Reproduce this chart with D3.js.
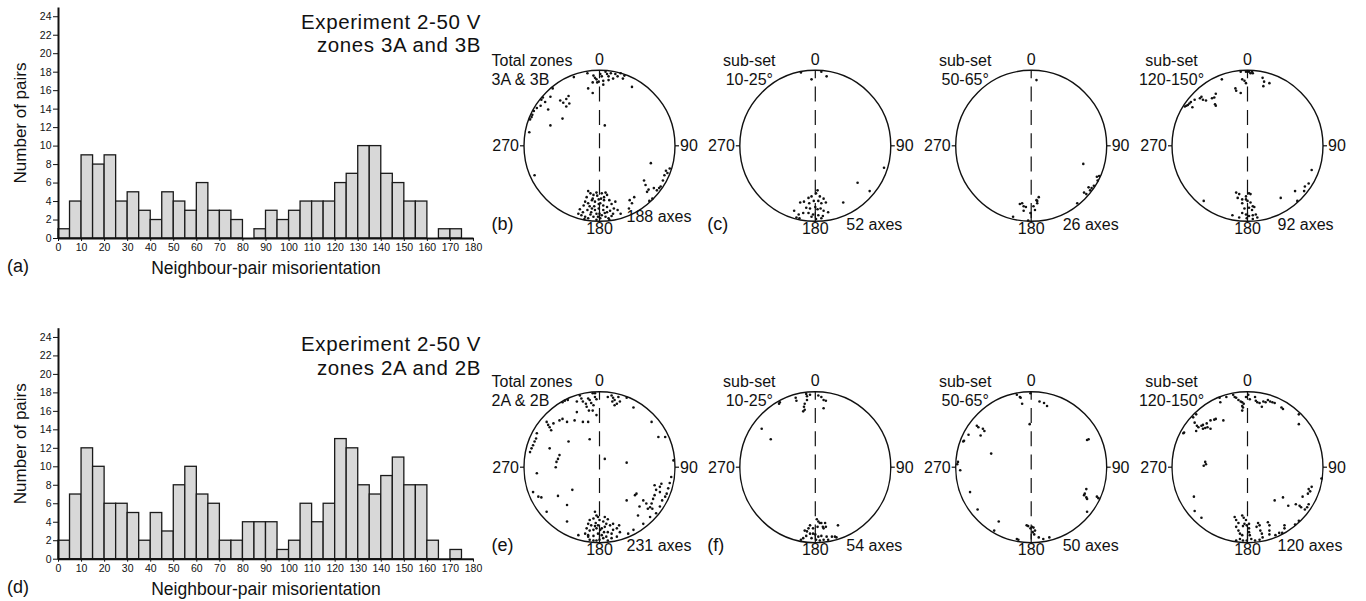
<!DOCTYPE html>
<html>
<head>
<meta charset="utf-8">
<script src="https://cdn.jsdelivr.net/npm/d3@7"></script>
<style>
  body { margin: 0; background: #fff; }
  svg { display: block; }
  text { font-family: 'Liberation Sans', Arial, Helvetica, sans-serif; fill: #111; }
</style>
</head>
<body>
<div class="chart"></div>
<script>
// histogram bins (start of each 5 degree class)
const binStarts = [0,5,10,15,20,25,30,35,40,45,50,55,60,65,70,75,80,85,90,95,100,105,110,115,120,125,130,135,140,145,150,155,160,165,170,175];
const countsZone3 = [1,4,9,8,9,4,5,3,2,5,4,3,6,3,3,2,0,1,3,2,3,4,4,4,6,7,10,10,7,6,4,4,0,1,1,0];
const countsZone2 = [2,7,12,10,6,6,5,2,5,3,8,10,7,6,2,2,4,4,4,1,2,6,4,6,13,12,8,7,9,11,8,8,2,0,1,0];
const xTicks = [0,10,20,30,40,50,60,70,80,90,100,110,120,130,140,150,160,170,180];
const yTicks = [0,2,4,6,8,10,12,14,16,18,20,22,24];

// c-axis poles, net coordinates (east, north) in % of net radius
const polesTotal3 = [[-16,96],[-8,93],[-6,90],[-4,88],[-1,85],[1,95],[3,92],[5,86],[8,98],[10,95],[12,92],[15,96],[18,89],[21,95],[24,92],[28,96],[31,89],[33,93],[43,78],[-3,84],[-9,84],[-15,76],[-9,70],[5,81],[12,87],
  [-34,91],[-62,76],[-65,65],[-77,61],[-75,64],[-72,58],[-78,53],[-68,48],[-52,60],[-48,57],[-44,62],[-41,66],[-40,56],[-44,52],[-89,41],[-90,38],[-92,35],[-87,46],[-83,50],[-49,36],[-65,27],[-93,18],[7,27],
  [-86,-39],
  [68,-23],[88,-33],[90,-36],[93,-30],[86,-39],[84,-46],[81,-54],[79,-56],[76,-59],[72,-56],[65,-58],[63,-61],[59,-46],[61,-52],[46,-68],[40,-72],[66,-73],[70,-70],[43,-76],[39,-83],
  [-15,-60],[-12,-63],[-17,-68],[-8,-65],[-4,-62],[3,-63],[6,-68],[10,-65],[13,-72],[16,-77],[19,-83],[21,-74],[-19,-74],[-21,-79],[-15,-76],[-10,-72],[-6,-74],[-1,-71],[1,-76],[5,-79],[10,-81],[-1,-83],[-6,-85],[-10,-83],[-16,-85],[-26,-84],[-28,-90],[-24,-92],[-19,-94],[-15,-96],[-8,-94],[-4,-90],[0,-90],[3,-92],[8,-94],[12,-96],[16,-93],[10,-88],[5,-85],[1,-96],[-4,-98],[-12,-91],[-20,-97],[13,-98],[-7,-80],[-1,-77],[24,-85],[28,-90],[6,-72],[-9,-70],
  [-3,-66],[8,-62],[-13,-80],[14,-86],[-22,-88],[-2,-94],[7,-89],[18,-90],[-11,-88],[2,-70]];
const polesSub3_10 = [[-19,97],[-5,88],[8,98],[15,92],[91,-29],[56,-49],[72,-60],[37,-75],
  [3,-59],[1,-63],[-9,-69],[-5,-67],[6,-67],[11,-70],[-20,-75],[-15,-74],[-8,-76],[-2,-73],[4,-73],[8,-76],[14,-75],[-12,-82],[-7,-83],[0,-81],[3,-84],[7,-83],[11,-86],[17,-88],[-28,-86],[-22,-91],[-16,-89],[-9,-89],[-3,-91],[4,-92],[10,-93],[-25,-95],[-21,-96],[1,-97],[8,-96],[-5,-94]];
const polesSub3_50 = [[7,87],[69,-24],[90,-40],[87,-41],[88,-46],[83,-53],[80,-56],[78,-59],[76,-55],[70,-62],[73,-64],[61,-76],[-12,-76],[-10,-80],[-7,-81],[-10,-86],[3,-80],[5,-85],[8,-76],[10,-68],[7,-72],[-4,-99],[-24,-94],[-15,-77],[8,-73],[-1,-89]];
const polesSub3_120 = [[-9,98],[-2,98],[2,98],[6,98],[7,96],[4,96],[-7,88],[-4,86],[-2,83],[-16,76],[-15,73],[-9,70],[20,90],[22,85],[21,79],[29,83],[-34,88],
  [-42,69],[-44,64],[-47,63],[-55,60],[-59,61],[-61,65],[-63,63],[-70,61],[-75,58],[-77,56],[-79,54],[-81,53],[-83,52],[-73,51],[-43,55],[-42,53],
  [85,-32],[81,-50],[76,-54],[75,-60],[63,-60],[44,-69],[66,-73],[-58,-73],
  [-15,-62],[-11,-64],[-13,-69],[-7,-71],[2,-63],[4,-64],[-2,-67],[0,-73],[4,-75],[7,-80],[2,-82],[9,-81],[6,-85],[-4,-83],[-7,-89],[-2,-91],[2,-93],[7,-92],[11,-91],[-20,-92],[-11,-95],[-1,-96],[7,-97],[13,-95],[-2,-71],[-7,-76]];
const polesTotal2 = [[-26,95],[-24,91],[-22,87],[-18,84],[-15,91],[-13,89],[-11,85],[-8,82],[-17,80],[-14,75],[-9,75],[-6,93],[-4,90],[-6,98],[-9,98],[16,95],[18,92],[20,89],[23,84],[17,87],[25,93],[27,87],[20,82],[36,92],[45,79],[-30,87],[-42,89],[-46,88],[-49,86],[-30,73],[-4,69],[11,93],
  [-70,60],[-68,56],[-66,53],[-64,49],[-61,58],[-53,62],[-49,64],[-43,60],[-33,62],[-22,60],[-15,60],[-83,45],[-84,38],[-88,29],[-90,25],[-92,20],[-86,34],[-66,25],[-53,16],[-55,11],[-57,7],[-58,0],[-41,34],[-13,37],[7,11],[36,6],
  [69,60],[78,40],[87,40],[98,9],[95,-13],[93,-21],[91,-28],[89,-35],[87,-39],[83,-44],[80,-33],[75,-30],[73,-37],[71,-42],[69,-48],[67,-53],[80,-26],[82,-22],[73,-24],[49,-35],[47,-37],[36,-44],[58,-44],[53,-52],[62,-48],[64,-55],[70,-55],[80,-52],[75,-61],[67,-66],[51,-64],[58,-75],[45,-83],[38,-88],
  [-83,-8],[-88,-33],[-81,-39],[-77,-40],[-55,-38],[-43,-50],[-36,-30],[-70,-59],[-43,-72],[-28,-90],[-15,-92],
  [-6,-59],[-4,-64],[-2,-66],[-8,-68],[-13,-70],[-15,-75],[-11,-77],[-5,-74],[0,-70],[5,-72],[9,-75],[14,-77],[18,-75],[7,-79],[3,-81],[-4,-81],[-8,-83],[-13,-84],[-17,-81],[-19,-88],[-15,-90],[-8,-91],[-2,-88],[3,-90],[6,-86],[11,-86],[16,-88],[18,-83],[23,-81],[26,-77],[27,-86],[9,-92],[5,-94],[0,-96],[-4,-97],[-8,-97],[-13,-96],[11,-97],[16,-94],[23,-92],[1,-83],[-2,-77],[-6,-78],[7,-66],[11,-69]];
const polesSub2_10 = [[-12,97],[-11,94],[-11,89],[-14,84],[-15,80],[-16,74],[-14,76],[-7,96],[4,95],[8,93],[11,89],[14,88],[11,78],[-26,92],[-25,88],[-47,86],[-48,84],[-71,51],[-59,37],
  [2,-69],[4,-72],[6,-74],[8,-74],[10,-79],[11,-81],[14,-79],[13,-74],[30,-77],[-7,-77],[-9,-81],[-11,-85],[-14,-84],[-7,-88],[-3,-88],[0,-89],[-12,-91],[-16,-94],[-19,-96],[-5,-94],[1,-96],[6,-97],[11,-96],[17,-96],[22,-92],[26,-92],[28,-93],[4,-92],[8,-91],[15,-92],[-3,-81],[3,-79]];
const polesSub2_50 = [[-19,96],[-15,93],[-14,92],[-12,84],[-1,98],[11,87],[17,85],[21,81],[-2,57],
  [-72,55],[-70,53],[-64,51],[-62,48],[-67,42],[-83,43],[-89,35],[-90,34],[-53,18],[-97,7],[-98,4],[-94,-4],[-81,-33],[-71,-56],[-43,-72],[-49,-84],
  [74,36],[76,37],[73,-29],[71,-35],[70,-37],[73,-40],[74,-42],[87,-39],[89,-41],[74,-59],
  [-6,-77],[-4,-78],[-1,-81],[1,-79],[3,-80],[5,-84],[2,-86],[4,-89],[-19,-95],[-17,-96],[10,-93],[16,-95],[24,-93]];
const polesSub2_120 = [[-19,96],[-17,93],[-15,92],[-12,89],[-9,87],[-7,86],[-5,84],[-7,81],[-6,79],[-7,75],[-2,93],[1,96],[3,90],[10,93],[11,88],[13,86],[16,85],[19,80],[21,87],[24,86],[27,89],[30,87],[33,86],[36,85],[45,79],[47,77],[68,70],[68,57],[-37,92],[-36,86],[-28,93],
  [-68,70],[-72,66],[-70,59],[-67,55],[-65,53],[-61,55],[-59,56],[-54,58],[-49,62],[-44,63],[-42,64],[-32,62],[-59,51],[-56,52],[-53,53],[-49,51],[-68,48],[-84,46],[-85,45],
  [-56,7],[-55,4],[-58,2],
  [-71,-39],[-70,-58],[-61,-67],
  [98,-15],[85,-26],[81,-29],[83,-32],[80,-35],[73,-39],[47,-40],[36,-44],[54,-51],[64,-49],[69,-51],[71,-53],[76,-56],[79,-53],[81,-49],[68,-71],[63,-76],[49,-77],[46,-87],
  [-17,-66],[-15,-70],[-12,-74],[-7,-64],[-5,-67],[-2,-70],[-4,-75],[-6,-78],[-15,-79],[-12,-84],[-10,-88],[-7,-90],[-1,-77],[2,-75],[2,-81],[2,-86],[3,-90],[5,-95],[12,-79],[14,-74],[16,-77],[17,-84],[19,-88],[20,-93],[27,-73],[29,-77],[29,-84],[29,-89],[37,-90],[42,-87],[49,-81],[-10,-95],[-6,-97],[-1,-97],[10,-97],[16,-96],[-15,-97]];

// panel texts
const setNames3 = [["Total zones","3A & 3B"],["sub-set","10-25°"],["sub-set","50-65°"],["sub-set","120-150°"]];
const setNames2 = [["Total zones","2A & 2B"],["sub-set","10-25°"],["sub-set","50-65°"],["sub-set","120-150°"]];
const axesCounts3 = ["188 axes","52 axes","26 axes","92 axes"];
const axesCounts2 = ["231 axes","54 axes","50 axes","120 axes"];
const panelLetters3 = ["(b)","(c)","",""];
const panelLetters2 = ["(e)","(f)","",""];

//setting sizes
const width = 1366, height = 601;
const svg = d3.select('.chart')
    .append('svg')
    .attr('width', width)
    .attr('height', height)

svg.append('rect').attr('width', width).attr('height', height).attr('fill', 'white')

//histogram panel
function histogram(counts, y0, title, titleY, letter) {
    const g = svg.append('g')
    const xScale = d3.scaleLinear().domain([0, 180]).range([58, 473])
    const yScale = d3.scaleLinear().domain([0, 25]).range([y0, y0 - 25 * 9.24])

    const bins = binStarts.map((b, i) => ({start: b, n: counts[i]})).filter(d => d.n > 0)
    g.selectAll('rect.bar')
        .data(bins)
        .join('rect')
        .attr('class', 'bar')
        .attr('x', d => xScale(d.start))
        .attr('width', d => xScale(d.start + 5) - xScale(d.start))
        .attr('y', d => yScale(d.n))
        .attr('height', d => yScale(0) - yScale(d.n))
        .attr('fill', '#d8d8d8')
        .attr('stroke', '#1a1a1a')
        .attr('stroke-width', 1.3)

    const xAxis = g.append('g')
        .attr('transform', `translate(0,${y0})`)
        .call(d3.axisBottom(xScale).tickValues(xTicks).tickSize(3).tickPadding(3).tickSizeOuter(0))
    const yAxis = g.append('g')
        .attr('transform', 'translate(58,0)')
        .call(d3.axisLeft(yScale).tickValues(yTicks).tickSize(5).tickPadding(1.5).tickSizeOuter(0))
    for (const ax of [xAxis, yAxis]) {
        ax.select('.domain').attr('stroke', '#111').attr('stroke-width', 2)
        ax.selectAll('.tick line').attr('stroke', '#111').attr('stroke-width', 1)
        ax.selectAll('.tick text').attr('font-size', 10.5).attr('font-family', null).attr('fill', '#111')
    }

    g.append('text')
        .attr('transform', `translate(20,${y0 - 115}) rotate(-90)`)
        .attr('text-anchor', 'middle')
        .attr('dy', '0.35em')
        .attr('font-size', 17)
        .text('Number of pairs')
    g.append('text')
        .attr('x', 266)
        .attr('y', y0 + 36)
        .attr('text-anchor', 'middle')
        .attr('font-size', 17.5)
        .text('Neighbour-pair misorientation')
    g.append('text')
        .attr('x', 7)
        .attr('y', y0 + 34)
        .attr('font-size', 18)
        .text(letter)
    title.forEach((t, i) => {
        g.append('text')
            .attr('x', 481)
            .attr('y', titleY[i])
            .attr('text-anchor', 'end')
            .attr('font-size', 20.5)
            .attr('letter-spacing', 0.6)
            .text(t)
    })
}

histogram(countsZone3, 238, ['Experiment 2-50 V', 'zones 3A and 3B'], [29, 52], '(a)')
histogram(countsZone2, 558.7, ['Experiment 2-50 V', 'zones 2A and 2B'], [351, 375], '(d)')

//equal-area net panels
const colX = [599.5, 815.3, 1031.2, 1247.5]
const R = 75.5
const nameX = [{dx: -108, anchor: 'start'}, {dx: -66, anchor: 'middle'}, {dx: -66, anchor: 'middle'}, {dx: -76, anchor: 'middle'}]
const countDx = [27, 31, 31.5, 30]

function net(poles, cx, cy, names, nameSpec, count, countDy, letter) {
    const g = svg.append('g')
    const xScale = d3.scaleLinear().domain([-100, 100]).range([cx - R, cx + R])
    const yScale = d3.scaleLinear().domain([-100, 100]).range([cy + R, cy - R])

    g.append('circle')
        .attr('cx', xScale(0)).attr('cy', yScale(0)).attr('r', R)
        .attr('fill', 'none').attr('stroke', '#111').attr('stroke-width', 1.4)

    // N-S reference line: short solid ends, dashed between
    g.append('line')
        .attr('x1', xScale(0)).attr('x2', xScale(0))
        .attr('y1', yScale(100)).attr('y2', yScale(-100))
        .attr('stroke', '#111').attr('stroke-width', 1.2)
        .attr('stroke-dasharray', '15,8.3')
        .attr('stroke-dashoffset', 7)
    g.append('line')
        .attr('x1', xScale(0)).attr('x2', xScale(0))
        .attr('y1', yScale(-88)).attr('y2', yScale(-100))
        .attr('stroke', '#111').attr('stroke-width', 1.2)
    // E-W ticks
    g.append('line')
        .attr('x1', xScale(-100) - 4).attr('x2', xScale(-100))
        .attr('y1', yScale(0)).attr('y2', yScale(0))
        .attr('stroke', '#111').attr('stroke-width', 1.2)
    g.append('line')
        .attr('x1', xScale(100)).attr('x2', xScale(100) + 4)
        .attr('y1', yScale(0)).attr('y2', yScale(0))
        .attr('stroke', '#111').attr('stroke-width', 1.2)

    g.selectAll('circle.pole')
        .data(poles)
        .join('circle')
        .attr('class', 'pole')
        .attr('cx', d => xScale(d[0]))
        .attr('cy', d => yScale(d[1]))
        .attr('r', 1.3)
        .attr('fill', '#111')

    const lab = (x, y, t, anchor, size, dy) => g.append('text')
        .attr('x', x).attr('y', y)
        .attr('text-anchor', anchor)
        .attr('dy', dy || null)
        .attr('font-size', size)
        .text(t)

    lab(cx, cy - 81, '0', 'middle', 16)
    lab(cx, cy + 88, '180', 'middle', 16)
    lab(cx - R - 5, cy, '270', 'end', 16, '0.35em')
    lab(cx + R + 5, cy, '90', 'start', 16, '0.35em')
    lab(cx + nameSpec.dx, cy - 80, names[0], nameSpec.anchor, 16)
    lab(cx + nameSpec.dx, cy - 61, names[1], nameSpec.anchor, 16)
    lab(cx + count.dx, cy + countDy, count.text, 'start', 16)
    if (letter) lab(cx - 108, cy + 84, letter, 'start', 18)
}

const row3 = [polesTotal3, polesSub3_10, polesSub3_50, polesSub3_120]
const row2 = [polesTotal2, polesSub2_10, polesSub2_50, polesSub2_120]

row3.forEach((p, i) => net(p, colX[i], 145.8, setNames3[i], nameX[i],
    {dx: countDx[i], text: axesCounts3[i]}, i === 0 ? 76 : 84, panelLetters3[i]))
row2.forEach((p, i) => net(p, colX[i], 467.2, setNames2[i], nameX[i],
    {dx: countDx[i], text: axesCounts2[i]}, 84, panelLetters2[i]))
</script>
</body>
</html>
